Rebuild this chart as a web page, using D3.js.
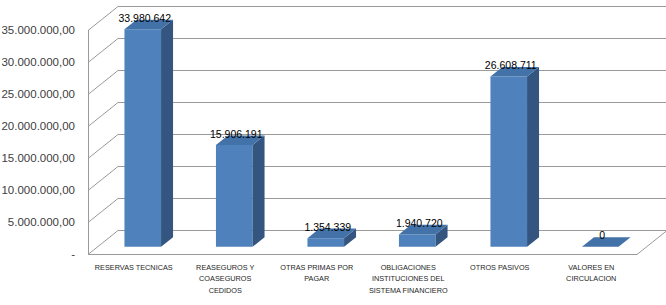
<!DOCTYPE html>
<html>
<head>
<meta charset="utf-8">
<script src="https://cdn.jsdelivr.net/npm/d3@7"></script>
<style>
  body { margin: 0; background: #fff; }
  svg { display: block; }
</style>
</head>
<body>
<div id="chart"></div>
<script>
// categories, values and ticks
var categories = ['RESERVAS TECNICAS', 'REASEGUROS Y COASEGUROS CEDIDOS', 'OTRAS PRIMAS POR PAGAR',
                  'OBLIGACIONES INSTITUCIONES DEL SISTEMA FINANCIERO', 'OTROS PASIVOS', 'VALORES EN CIRCULACION'];
var labelLines = [['RESERVAS TECNICAS'], ['REASEGUROS Y', 'COASEGUROS', 'CEDIDOS'], ['OTRAS PRIMAS POR', 'PAGAR'],
                  ['OBLIGACIONES', 'INSTITUCIONES DEL', 'SISTEMA FINANCIERO'], ['OTROS PASIVOS'], ['VALORES EN', 'CIRCULACION']];
var values = [33980642, 15906191, 1354339, 1940720, 26608711, 0];
var yTicks = [0, 5e6, 10e6, 15e6, 20e6, 25e6, 30e6, 35e6];

var W = 666, H = 305;
var depth = {dx: 30, dy: -24};   // floor depth offset
var barDepth = {from: 0.3, to: 0.7};

var x = d3.scaleBand().domain(categories).range([88, 637]).paddingInner(0).paddingOuter(0);
var y = d3.scaleLinear().domain([0, 35e6]).range([254, 30]);

var fmtTick = function(v){
    if (v === 0) return '-';
    var s = d3.format(',.2f')(v);
    return s.replace(/,/g, '#').replace('.', ',').replace(/#/g, '.');
};
var fmtVal = function(v){ return d3.format(',')(v).replace(/,/g, '.'); };

// project a front-plane point back by fraction d of the depth
var P = function(px, py, d){ return [px + d * depth.dx, py + d * depth.dy]; };
var poly = function(pts){ return 'M' + pts.map(function(p){ return p.join(','); }).join('L') + 'Z'; };

var svg = d3.select('#chart').append('svg').attr('width', W).attr('height', H);

var grid = svg.append('g').attr('stroke', '#9a9a9a').attr('stroke-width', 1).attr('fill', 'none');

// back wall gridlines + side wall diagonals
yTicks.forEach(function(t){
    var yy = Math.round(y(t)) + 0.5;
    var b = P(88, yy, 1);
    grid.append('line').attr('x1', 88).attr('y1', yy).attr('x2', b[0]).attr('y2', b[1]);
    grid.append('line').attr('x1', b[0]).attr('y1', b[1]).attr('x2', W + 5).attr('y2', b[1]);
});
// front axis and floor
var y0 = Math.round(y(0)) + 0.5;
grid.append('line').attr('x1', 88.5).attr('y1', Math.round(y(35e6))).attr('x2', 88.5).attr('y2', y0);
grid.append('line').attr('x1', 88).attr('y1', y0).attr('x2', 637).attr('y2', y0);
var fr = P(637, y0, 1);
grid.append('line').attr('x1', 637).attr('y1', y0).attr('x2', fr[0]).attr('y2', fr[1]);

// tick labels
svg.append('g').selectAll('text').data(yTicks).enter().append('text')
    .attr('x', 75).attr('y', function(d){ return y(d) + 4; })
    .attr('text-anchor', 'end')
    .style('font', '11.5px "Liberation Sans", Arial, sans-serif')
    .style('fill', '#404040')
    .text(fmtTick);

// bars
var bw = x.bandwidth() * 0.4;
var bars = svg.append('g').selectAll('g').data(values).enter().append('g');
bars.each(function(v, i){
    var g = d3.select(this);
    var cx = x(categories[i]) + x.bandwidth() / 2;
    var x0 = cx - bw / 2, x1 = cx + bw / 2;
    var f = barDepth.from, b = barDepth.to;
    var yt = y(v), yb = y(0);
    // front
    g.append('path').attr('d', poly([P(x0, yt, f), P(x1, yt, f), P(x1, yb, f), P(x0, yb, f)])).attr('fill', '#4f81bd');
    // side
    g.append('path').attr('d', poly([P(x1, yt, f), P(x1, yt, b), P(x1, yb, b), P(x1, yb, f)])).attr('fill', '#34557f');
    // top
    g.append('path').attr('d', poly([P(x0, yt, f), P(x0, yt, b), P(x1, yt, b), P(x1, yt, f)])).attr('fill', '#4272a8');
    // value label
    var lp = P(cx, yt, f);
    g.append('text').attr('x', lp[0] + 2).attr('y', lp[1] - 7.5)
        .attr('text-anchor', 'middle')
        .style('font', '10.5px "Liberation Sans", Arial, sans-serif')
        .style('fill', '#000')
        .text(fmtVal(v));
});

// category labels
var cl = svg.append('g');
labelLines.forEach(function(lines, i){
    var cx = x(categories[i]) + x.bandwidth() / 2;
    lines.forEach(function(s, k){
        cl.append('text').attr('x', cx).attr('y', 269.5 + k * 11.5)
            .attr('text-anchor', 'middle')
            .style('font', '7.3px "Liberation Sans", Arial, sans-serif')
            .style('fill', '#262626')
            .text(s);
    });
});
</script>
</body>
</html>
